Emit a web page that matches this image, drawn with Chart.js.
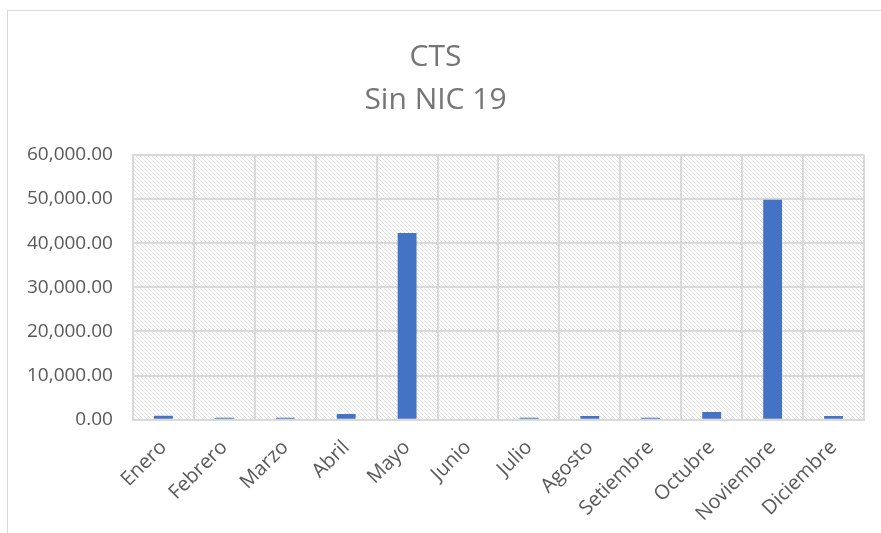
<!DOCTYPE html>
<html><head><meta charset="utf-8">
<script src="https://cdn.jsdelivr.net/npm/chart.js@4/dist/chart.umd.min.js"></script>
<style>
html,body{margin:0;padding:0;background:#fff;}
#wrap{position:absolute;left:0;top:0;width:881px;height:533px;overflow:hidden;}
#frame{position:absolute;left:7px;top:10px;width:880px;height:530px;border:1px solid #d9d9d9;box-sizing:border-box;}
canvas{position:absolute;left:0;top:0;}
</style></head>
<body>
<div id="wrap"><div id="frame"></div><canvas id="c" width="881" height="533"></canvas></div>
<script>
const months = ['Enero','Febrero','Marzo','Abril','Mayo','Junio','Julio','Agosto','Setiembre','Octubre','Noviembre','Diciembre'];
const ctsValues = [900, 450, 450, 1300, 42300, 0, 450, 850, 450, 1750, 49800, 850];
const titleLines = ['CTS','Sin NIC 19'];
const yMin = 0, yMax = 60000, yStep = 10000;

const hatchPlugin = {
  id:'hatch',
  beforeDraw(chart){
    const {ctx, chartArea:a} = chart;
    const p = document.createElement('canvas');
    p.width = 8; p.height = 8;
    const g = p.getContext('2d');
    g.strokeStyle = '#dedede';
    g.lineWidth = 1;
    g.beginPath();
    for (let k = -8; k <= 8; k += 4) { g.moveTo(k, 0); g.lineTo(k + 8, 8); }
    g.stroke();
    ctx.save();
    ctx.fillStyle = ctx.createPattern(p,'repeat');
    ctx.fillRect(a.left, a.top, a.right-a.left, a.bottom-a.top);
    ctx.restore();
  }
};

new Chart(document.getElementById('c'), {
  type:'bar',
  data:{labels:months, datasets:[{data:ctsValues, backgroundColor:'#4472C4', categoryPercentage:1, barPercentage:0.31}]},
  options:{
    responsive:false, animation:false,
    layout:{padding:{left:7, right:17, top:36, bottom:-9}},
    plugins:{
      legend:{display:false}, tooltip:{enabled:false},
      title:{display:true, text:titleLines, color:'#757575', font:{family:'Open Sans', size:30, weight:'normal', lineHeight:1.43}, padding:{top:0,bottom:33}}
    },
    scales:{
      x:{grid:{color:'#d9d9d9', lineWidth:2, offset:true, drawTicks:false}, border:{color:'#d9d9d9', width:2},
         ticks:{color:'#595959', font:{family:'Open Sans', size:20}, maxRotation:45, minRotation:45, padding:16}},
      y:{min:yMin, max:yMax, grid:{color:'#d9d9d9', lineWidth:2, drawTicks:false}, border:{color:'#d9d9d9', width:2},
         ticks:{stepSize:yStep, color:'#595959', font:{family:'Open Sans', size:19}, padding:20,
           callback:v=>v.toLocaleString('en-US',{minimumFractionDigits:2, maximumFractionDigits:2})}}
    }
  },
  plugins:[hatchPlugin]
});
</script>
</body></html>
